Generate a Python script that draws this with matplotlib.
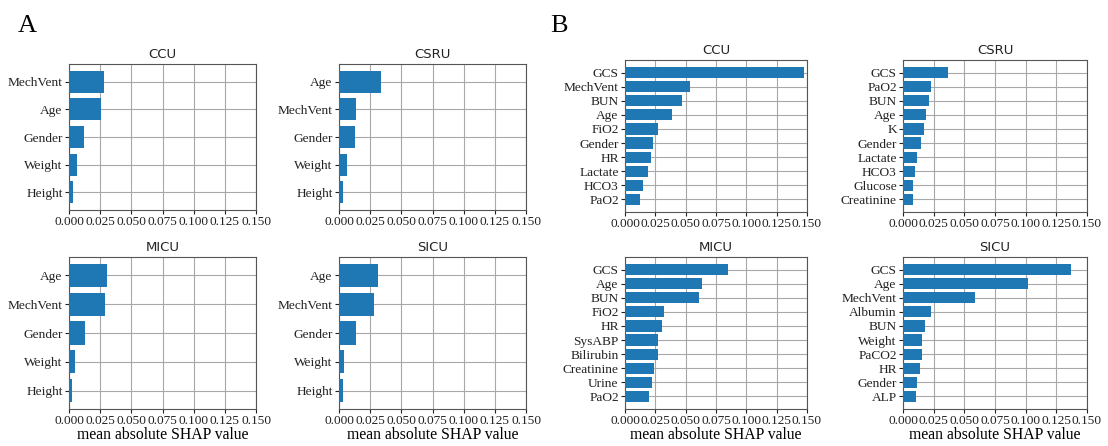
import matplotlib
matplotlib.use("Agg")
import matplotlib.pyplot as plt

W, H = 1108, 446

# Panel A data
a_ccu_labels = ["MechVent", "Age", "Gender", "Weight", "Height"]
a_ccu_values = [0.0281, 0.0257, 0.0120, 0.0067, 0.0035]
a_csru_labels = ["Age", "MechVent", "Gender", "Weight", "Height"]
a_csru_values = [0.0335, 0.0140, 0.0125, 0.0064, 0.0032]
a_micu_labels = ["Age", "MechVent", "Gender", "Weight", "Height"]
a_micu_values = [0.0307, 0.0290, 0.0125, 0.0048, 0.0024]
a_sicu_labels = ["Age", "MechVent", "Gender", "Weight", "Height"]
a_sicu_values = [0.0316, 0.0281, 0.0139, 0.0038, 0.0032]

# Panel B data
b_ccu_labels = ["GCS", "MechVent", "BUN", "Age", "FiO2", "Gender", "HR", "Lactate", "HCO3", "PaO2"]
b_ccu_values = [0.1472, 0.0537, 0.0473, 0.0385, 0.0270, 0.0228, 0.0212, 0.0190, 0.0151, 0.0124]
b_csru_labels = ["GCS", "PaO2", "BUN", "Age", "K", "Gender", "Lactate", "HCO3", "Glucose", "Creatinine"]
b_csru_values = [0.0367, 0.0228, 0.0209, 0.0188, 0.0168, 0.0149, 0.0111, 0.0095, 0.0084, 0.0079]
b_micu_labels = ["GCS", "Age", "BUN", "FiO2", "HR", "SysABP", "Bilirubin", "Creatinine", "Urine", "PaO2"]
b_micu_values = [0.0853, 0.0633, 0.0611, 0.0325, 0.0308, 0.0275, 0.0270, 0.0240, 0.0226, 0.0201]
b_sicu_labels = ["GCS", "Age", "MechVent", "Albumin", "BUN", "Weight", "PaCO2", "HR", "Gender", "ALP"]
b_sicu_values = [0.1372, 0.1022, 0.0587, 0.0226, 0.0179, 0.0158, 0.0155, 0.0136, 0.0111, 0.0103]

xticks = [0.0, 0.025, 0.05, 0.075, 0.1, 0.125, 0.15]
xtick_labels = ["0.000", "0.025", "0.050", "0.075", "0.100", "0.125", "0.150"]

SERIF = "Liberation Serif"
BAR = "#1f77b4"

fig = plt.figure(figsize=(W / 100, H / 100), dpi=100)


def add_ax(x0, y0, x1, y1):
    return fig.add_axes([x0 / W, 1 - y1 / H, (x1 - x0) / W, (y1 - y0) / H])


def panel(ax, title, labels, values, xlabel=False):
    ypos = list(range(len(labels)))[::-1]
    ax.barh(ypos, values, height=0.8, color=BAR, zorder=3)
    ax.set_xlim(0, 0.15)
    ax.set_xticks(xticks)
    ax.set_xticklabels(xtick_labels, fontfamily=SERIF, fontsize=9.6)
    ax.set_yticks(ypos)
    ax.set_yticklabels(labels, fontfamily=SERIF, fontsize=9.6)
    ax.tick_params(length=3, pad=1.5, colors="#222222")
    ax.grid(True, color="#a8a8a8", linewidth=0.8, zorder=0)
    ax.set_axisbelow(True)
    ax.set_title(title, fontsize=9.5, pad=4, color="#222222")
    for s in ax.spines.values():
        s.set_color("#555555")
        s.set_linewidth(0.8)
    if xlabel:
        ax.set_xlabel("mean absolute SHAP value", fontfamily=SERIF, fontsize=11.3, labelpad=0)


panel(add_ax(69, 64, 256, 210), "CCU", a_ccu_labels, a_ccu_values)
panel(add_ax(339, 64, 526, 210), "CSRU", a_csru_labels, a_csru_values)
panel(add_ax(69, 257, 256, 409), "MICU", a_micu_labels, a_micu_values, xlabel=True)
panel(add_ax(339, 257, 526, 409), "SICU", a_sicu_labels, a_sicu_values, xlabel=True)

panel(add_ax(625, 60, 807, 212), "CCU", b_ccu_labels, b_ccu_values)
panel(add_ax(903, 60, 1087, 212), "CSRU", b_csru_labels, b_csru_values)
panel(add_ax(625, 257, 807, 409), "MICU", b_micu_labels, b_micu_values, xlabel=True)
panel(add_ax(903, 257, 1087, 409), "SICU", b_sicu_labels, b_sicu_values, xlabel=True)

fig.text(18 / W, 1 - 32 / H, "A", fontfamily=SERIF, fontsize=19)
fig.text(550 / W, 1 - 32 / H, "B", fontfamily=SERIF, fontsize=19)

fig.savefig("out.png", dpi=100, facecolor="white")
